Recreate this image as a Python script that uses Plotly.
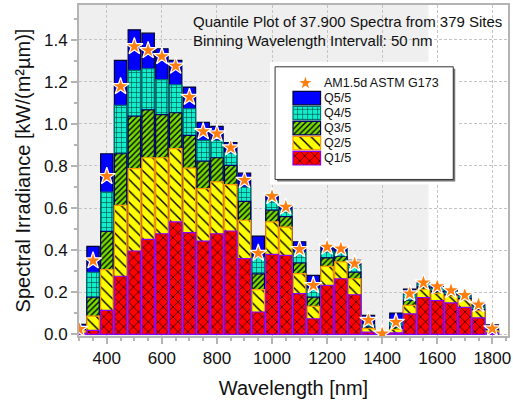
import plotly.graph_objects as go

# ---------------- data ----------------
wavelength = [300, 350, 400, 450, 500, 550, 600, 650, 700, 750, 800, 850, 900, 950,
              1000, 1050, 1100, 1150, 1200, 1250, 1300, 1350, 1400, 1450, 1500,
              1550, 1600, 1650, 1700, 1750, 1800]

# cumulative upper boundaries of each quantile band [kW/(m² µm)]
q1_top = [0.005, 0.019, 0.114, 0.276, 0.396, 0.451, 0.478, 0.534, 0.483, 0.443, 0.478,
          0.491, 0.360, 0.106, 0.380, 0.375, 0.193, 0.074, 0.233, 0.264, 0.188, 0.010,
          0.001, 0.007, 0.097, 0.175, 0.160, 0.149, 0.128, 0.078, 0.006]
q2_top = [0.017, 0.086, 0.307, 0.613, 0.787, 0.839, 0.839, 0.882, 0.790, 0.692, 0.724,
          0.711, 0.542, 0.212, 0.534, 0.509, 0.288, 0.133, 0.323, 0.344, 0.264, 0.027,
          0.002, 0.023, 0.138, 0.214, 0.195, 0.182, 0.163, 0.111, 0.016]
q3_top = [0.025, 0.177, 0.489, 0.858, 1.037, 1.067, 1.044, 1.053, 0.945, 0.823, 0.839,
          0.803, 0.632, 0.287, 0.590, 0.559, 0.339, 0.177, 0.363, 0.371, 0.296, 0.035,
          0.003, 0.035, 0.162, 0.225, 0.203, 0.188, 0.170, 0.117, 0.022]
q4_top = [0.037, 0.295, 0.676, 1.088, 1.254, 1.262, 1.210, 1.186, 1.072, 0.922, 0.922,
          0.861, 0.700, 0.366, 0.635, 0.590, 0.389, 0.217, 0.394, 0.391, 0.328, 0.045,
          0.004, 0.056, 0.190, 0.240, 0.217, 0.201, 0.182, 0.133, 0.035]
q5_top = [0.047, 0.418, 0.858, 1.302, 1.447, 1.431, 1.357, 1.302, 1.175, 1.007, 0.988,
          0.911, 0.766, 0.467, 0.668, 0.615, 0.440, 0.280, 0.423, 0.415, 0.352, 0.090,
          0.005, 0.101, 0.215, 0.253, 0.235, 0.212, 0.193, 0.152, 0.045]
am15d = [0.024, 0.350, 0.751, 1.178, 1.368, 1.349, 1.321, 1.275, 1.127, 0.964, 0.953,
         0.887, 0.732, 0.386, 0.656, 0.605, 0.404, 0.233, 0.415, 0.407, 0.336, 0.067,
         0.003, 0.058, 0.193, 0.245, 0.227, 0.209, 0.186, 0.141, 0.027]

names = ["Q1/5", "Q2/5", "Q3/5", "Q4/5", "Q5/5"]
star_name = "AM1.5d ASTM G173"
x_ticks = [400, 600, 800, 1000, 1200, 1400, 1600, 1800]
y_ticks = [0.0, 0.2, 0.4, 0.6, 0.8, 1.0, 1.2, 1.4]

# ---------------- styles ----------------
FONT = "Liberation Sans, Arial, sans-serif"
styles = {
    "Q1/5": dict(color="#ff0000", line="#8a00ff", shape="x", size=7, sol=0.18, fg="#000000"),
    "Q2/5": dict(color="#ffff00", line="#ff9900", shape="\\", size=8, sol=0.18, fg="#000000"),
    "Q3/5": dict(color="#77dd00", line="#000066", shape="/", size=4, sol=0.35, fg="#000000"),
    "Q4/5": dict(color="#11eecc", line="#007070", shape="+", size=5, sol=0.2, fg="#003333"),
    "Q5/5": dict(color="#0000ff", line="#000033", shape="", size=8, sol=0.2, fg="#000000"),
}
tops = {"Q1/5": q1_top, "Q2/5": q2_top, "Q3/5": q3_top, "Q4/5": q4_top, "Q5/5": q5_top}

W, H = 513, 401
PL, PR, PT, PB = 79, 510, 4, 336  # plot area in pixels


def marker_for(name):
    s = styles[name]
    m = dict(color=s["color"], line=dict(color=s["line"], width=1.2))
    if s["shape"]:
        m["pattern"] = dict(shape=s["shape"], size=s["size"], solidity=s["sol"],
                            fgcolor=s["fg"], bgcolor=s["color"], fillmode="replace")
    return m


fig = go.Figure()

# main stacked quantile bars (drawn tallest first, overlaid)
for name in reversed(names):
    fig.add_trace(go.Bar(x=wavelength, y=tops[name], name=name, marker=marker_for(name),
                         showlegend=False, xaxis="x", yaxis="y"))

fig.add_trace(go.Scatter(x=wavelength, y=am15d, mode="markers", name=star_name,
                         marker=dict(symbol="star", size=13, color="#ff7f0e",
                                     line=dict(color="white", width=1.2)),
                         showlegend=False, xaxis="x", yaxis="y"))

# ---------------- hand-made legend (inset subplot) ----------------
leg_cats = names + [star_name]
LX0, LX1, LY0, LY1 = 276, 455, 66, 179      # legend box, pixels
SW0, SW1 = 294, 321.7                       # swatch x-extent, pixels
ROW0, ROWSTEP = 157.7, 15.08                # y pixel of first row, row step
PAD = 5
k = SW1 - SW0


def ux(px):
    return (px - SW0) / k


def uy(py):
    return (ROW0 - py) / ROWSTEP


for name in reversed(names):
    fig.add_trace(go.Bar(x=[1], y=[name], base=0, orientation="h", width=0.9,
                         marker=marker_for(name), showlegend=False,
                         xaxis="x2", yaxis="y2", hoverinfo="skip"))
fig.add_trace(go.Scatter(x=[0.45], y=[star_name], mode="markers",
                         marker=dict(symbol="star", size=9, color="#ff7f0e"),
                         showlegend=False, xaxis="x2", yaxis="y2", hoverinfo="skip"))

shapes = [
    # light grey plotting background (ends near 1570 nm as in the reference)
    dict(type="rect", xref="x", yref="paper", x0=299, x1=1568, y0=0, y1=1,
         fillcolor="#efefef", line=dict(width=0), layer="below"),
    # legend shadow
    dict(type="rect", xref="x2", yref="y2", x0=ux(LX0 + 2), x1=ux(LX1 + 2),
         y0=uy(LY1 + 2), y1=uy(LY0 + 2), fillcolor="#777777",
         line=dict(width=0), layer="below"),
    # legend box
    dict(type="rect", xref="x2", yref="y2", x0=ux(LX0), x1=ux(LX1),
         y0=uy(LY1), y1=uy(LY0), fillcolor="white",
         line=dict(color="#333333", width=1), layer="below"),
]

annotations = [
    dict(text="Quantile Plot of 37.900 Spectra from 379 Sites", xref="paper", yref="paper",
         x=(192 - PL) / (PR - PL), y=(PB - 21) / (PB - PT), xanchor="left", yanchor="middle",
         showarrow=False, font=dict(family=FONT, size=15, color="#111111")),
    dict(text="Binning Wavelength Intervall: 50 nm", xref="paper", yref="paper",
         x=(192 - PL) / (PR - PL), y=(PB - 39.5) / (PB - PT), xanchor="left", yanchor="middle",
         showarrow=False, font=dict(family=FONT, size=15, color="#111111")),
]
for cat in leg_cats:
    annotations.append(dict(text=cat, xref="x2", yref="y2", x=ux(323), y=cat,
                            xanchor="left", yanchor="middle", showarrow=False,
                            font=dict(family=FONT, size=12.5, color="#111111")))


def xpaper(px):
    return (px - PL) / (PR - PL)


def ypaper(py):
    return (PB - py) / (PB - PT)


axis_common = dict(showline=True, mirror=True, linecolor="#b4b4b4", linewidth=2,
                   ticks="outside", tickcolor="#b4b4b4", ticklen=6, tickwidth=1.5,
                   showgrid=True, gridcolor="#c4c4c4", griddash="3px,2px", gridwidth=1,
                   zeroline=False, tickfont=dict(family=FONT, size=17, color="#111111"))

fig.update_layout(
    width=W, height=H,
    margin=dict(l=PL, r=W - PR, t=PT, b=H - PB, pad=0),
    paper_bgcolor="white", plot_bgcolor="white",
    barmode="overlay", bargap=0.1,
    showlegend=False,
    font=dict(family=FONT),
    xaxis=dict(range=[299, 1857], tickmode="array", tickvals=x_ticks,
               ticktext=[str(v) for v in x_ticks],
               minor=dict(dtick=50, tick0=0, ticks="outside", ticklen=3,
                          tickcolor="#b4b4b4", showgrid=False),
               title=dict(text="Wavelength [nm]", standoff=14,
                          font=dict(family=FONT, size=20, color="#111111")),
               **axis_common),
    yaxis=dict(range=[-0.008, 1.565], tickmode="array", tickvals=y_ticks,
               ticktext=[f"{v:.1f}" for v in y_ticks],
               minor=dict(dtick=0.1, tick0=0, ticks="outside", ticklen=3,
                          tickcolor="#b4b4b4", showgrid=False),
               title=dict(text="Spectral Irradiance [kW/(m²µm)]", standoff=8,
                          font=dict(family=FONT, size=20, color="#111111")),
               **axis_common),
    xaxis2=dict(domain=[xpaper(LX0 - PAD), xpaper(LX1 + PAD)],
                range=[ux(LX0 - PAD), ux(LX1 + PAD)], visible=False, anchor="y2"),
    yaxis2=dict(domain=[ypaper(LY1 + PAD), ypaper(LY0 - PAD)],
                range=[uy(LY1 + PAD), uy(LY0 - PAD)], visible=False, anchor="x2",
                type="category", categoryorder="array", categoryarray=leg_cats),
    shapes=shapes,
    annotations=annotations,
)

fig.write_html("out.html", config={"displayModeBar": False},
               post_script="document.body.style.margin='0px';")
